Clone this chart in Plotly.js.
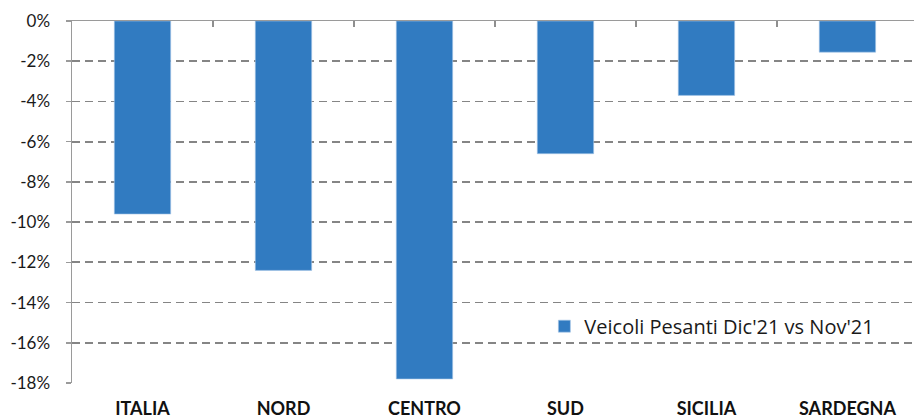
<!DOCTYPE html>
<html>
<head>
<meta charset="utf-8">
<script src="https://cdn.plot.ly/plotly-3.0.1.min.js"></script>
<style>html,body{margin:0;padding:0;background:#fff;}#chart{width:914px;height:418px;}</style>
</head>
<body>
<div id="chart"></div>
<script>
const categories = ['ITALIA', 'NORD', 'CENTRO', 'SUD', 'SICILIA', 'SARDEGNA'];
const values = [-9.6, -12.4, -17.8, -6.6, -3.7, -1.55];
const seriesName = "Veicoli Pesanti Dic'21 vs Nov'21";
const yTickValues = [0, -2, -4, -6, -8, -10, -12, -14, -16, -18];
const yTickLabels = ['0%', '-2%', '-4%', '-6%', '-8%', '-10%', '-12%', '-14%', '-16%', '-18%'];
const boundaryTicks = [0.5, 1.5, 2.5, 3.5, 4.5];

const xRange = [-0.5, 5.472];

const traces = [
  {
    type: 'bar',
    x: categories.map((c, i) => i),
    y: values,
    name: seriesName,
    width: 0.4,
    marker: {color: '#317bc1', line: {color: '#a9c8e8', width: 0.6}},
    hoverinfo: 'skip'
  },
  {
    type: 'scatter',
    x: [0],
    y: [0],
    xaxis: 'x2',
    mode: 'markers',
    marker: {opacity: 0},
    showlegend: false,
    hoverinfo: 'skip'
  }
];

const layout = {
  width: 914,
  height: 418,
  margin: {l: 72, r: 0, t: 21, b: 35},
  paper_bgcolor: '#ffffff',
  plot_bgcolor: '#ffffff',
  showlegend: true,
  bargap: 0,
  xaxis: {
    range: xRange,
    tickvals: categories.map((c, i) => i),
    ticktext: categories,
    showline: false,
    showgrid: false,
    zeroline: false,
    ticks: '',
    ticklabelstandoff: 13,
    tickfont: {family: 'Lato, "Liberation Sans", sans-serif', size: 18, color: '#111111', weight: 'bold'}
  },
  xaxis2: {
    overlaying: 'x',
    side: 'top',
    anchor: 'y',
    range: xRange,
    tickvals: boundaryTicks,
    showticklabels: false,
    ticks: 'inside',
    ticklen: 6,
    tickwidth: 1.5,
    tickcolor: '#8f8f8f',
    showline: true,
    linecolor: '#9a9a9a',
    linewidth: 1.5,
    showgrid: false,
    zeroline: false
  },
  yaxis: {
    range: [-18, 0],
    tickvals: yTickValues,
    ticktext: yTickLabels,
    showgrid: true,
    gridcolor: '#858585',
    gridwidth: 1.8,
    griddash: '8px,5px',
    zeroline: false,
    showline: true,
    linecolor: '#9a9a9a',
    linewidth: 1.5,
    ticks: 'outside',
    ticklen: 5,
    tickwidth: 1.5,
    tickcolor: '#9a9a9a',
    ticklabelstandoff: 12,
    tickfont: {family: 'Lato, "Liberation Sans", sans-serif', size: 17, color: '#1a1a1a'}
  },
  legend: {
    x: 0.561,
    y: 0.157,
    xanchor: 'left',
    yanchor: 'middle',
    bgcolor: 'rgba(0,0,0,0)',
    font: {family: '"Open Sans", sans-serif', size: 20, color: '#1a1a1a'}
  }
};

Plotly.newPlot('chart', traces, layout, {displayModeBar: false, staticPlot: true});
</script>
</body>
</html>
